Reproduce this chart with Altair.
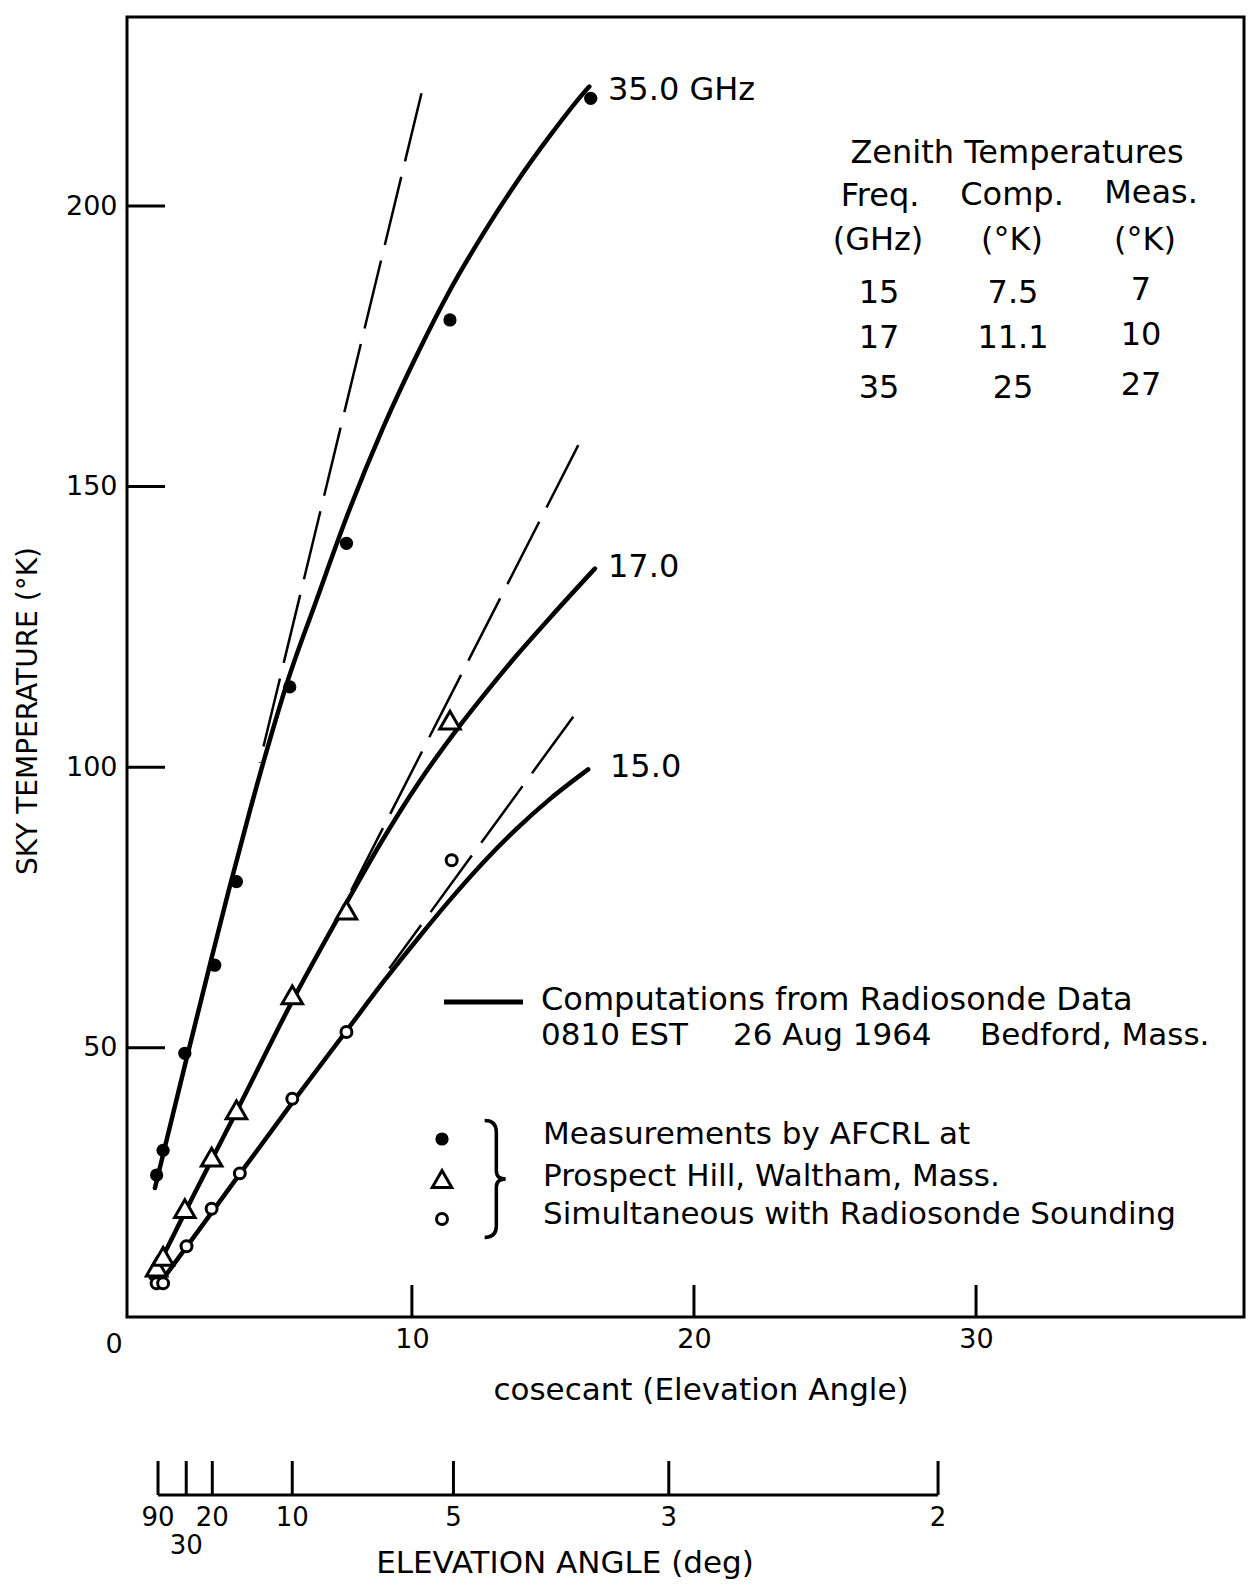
import math
import altair as alt
import pandas as pd

FONT = "DejaVu Sans"

# ---------------- data ----------------
# measured points: cosecant of elevation angle vs sky temperature (K)
meas35_csc = [0.95, 1.18, 1.95, 3.01, 3.78, 5.67, 7.68, 11.35, 16.34]
meas35_temp = [27.3, 31.7, 49.0, 64.7, 79.6, 114.3, 139.9, 179.7, 219.2]
meas17_csc = [0.95, 1.18, 1.95, 2.90, 3.78, 5.76, 7.68, 11.35]
meas17_temp = [10.9, 12.8, 21.3, 30.5, 38.9, 59.4, 74.5, 108.4]
meas15_csc = [0.95, 1.18, 2.01, 2.90, 3.90, 5.76, 7.68, 11.41]
meas15_temp = [8.0, 8.0, 14.6, 21.3, 27.6, 40.9, 52.8, 83.4]

# computed curves (radiosonde data)
comp35_csc = [0.89, 1.24, 1.95, 2.9, 3.49, 4.26, 5.0, 5.56, 6.62, 7.68, 8.98,
              10.18, 11.35, 12.52, 13.72, 14.89, 16.06, 16.29]
comp35_temp = [25.0, 32.2, 46.8, 66.0, 77.7, 92.3, 105.5, 114.8, 129.8, 144.5,
               160.5, 173.5, 185.0, 195.0, 204.3, 212.5, 220.0, 221.3]
comp17_csc = [0.75, 1.0, 1.95, 2.9, 3.78, 5.76, 7.68, 8.98, 10.17, 11.7, 12.53,
              13.71, 14.89, 16.49]
comp17_temp = [9.0, 11.2, 20.6, 30.0, 38.6, 58.3, 75.8, 87.2, 96.7, 107.4, 112.7,
               119.9, 126.6, 135.4]
comp15_csc = [0.95, 2.01, 2.9, 3.9, 5.76, 7.68, 9.0, 10.3, 11.55, 12.53, 13.71,
              14.89, 16.25]
comp15_temp = [7.2, 14.5, 20.6, 27.5, 40.2, 53.0, 61.8, 70.0, 77.5, 83.0, 89.0,
               94.3, 99.6]

# dashed linear extensions
lin35_csc = [4.6, 10.34]
lin35_temp = [100.8, 220.1]
lin17_csc = [7.5, 15.9]
lin17_temp = [74.6, 157.4]
lin15_csc = [9.2, 15.72]
lin15_temp = [64.1, 109.0]

curve_labels = ["35.0 GHz", "17.0", "15.0"]

y_ticks = [50, 100, 150, 200]
x_ticks = [10, 20, 30]

elev_angles = [90, 30, 20, 10, 5, 3, 2]
elev_labels = ["90", "30", "20", "10", "5", "3", "2"]

zen_freq = ["15", "17", "35"]
zen_comp = ["7.5", "11.1", "25"]
zen_meas = ["7", "10", "27"]

# ---------------- layout ----------------
L, T = 127, 17          # plot-area origin on the page
W, H = 1117, 1300

xs = alt.Scale(domain=[-0.1, 39.5], nice=False, zero=False)
ys = alt.Scale(domain=[2.0, 233.7], nice=False, zero=False)

xaxis = alt.Axis(values=x_ticks, ticks=False, domain=False, grid=False,
                 labelFontSize=27, labelPadding=9, labelColor="black",
                 labelFont=FONT, title=None)
yaxis = alt.Axis(values=y_ticks, ticks=False, domain=False, grid=False,
                 labelFontSize=27, labelPadding=10, labelColor="black",
                 labelFont=FONT, title=None)


def X(f):
    return alt.X(f, type="quantitative", scale=xs, axis=xaxis)


def Y(f):
    return alt.Y(f, type="quantitative", scale=ys, axis=yaxis)


def series_df(pairs):
    rows = []
    for name, xs_, ys_ in pairs:
        for a, b in zip(xs_, ys_):
            rows.append({"s": name, "csc": a, "temp": b})
    return pd.DataFrame(rows)


def txt(s, px, py, size, align="center", baseline="middle", angle=0):
    mk = dict(font=FONT, fontSize=size, align=align, baseline=baseline,
              color="black")
    if angle:
        mk["angle"] = angle
    return alt.Chart(pd.DataFrame({"t": [s]})).mark_text(**mk).encode(
        x=alt.value(px - L), y=alt.value(py - T), text="t:N")


layers = []

# inward ticks on the main axes
layers.append(alt.Chart(pd.DataFrame({"v": y_ticks})).mark_rule(
    color="black", strokeWidth=3).encode(
    y=Y("v"), x=alt.value(0), x2=alt.value(38)))
layers.append(alt.Chart(pd.DataFrame({"v": x_ticks})).mark_rule(
    color="black", strokeWidth=3).encode(
    x=X("v"), y=alt.value(H), y2=alt.value(H - 32)))

# dashed extrapolations (drawn from the top end so a full dash starts there)
dash_df = series_df([("35", lin35_csc, lin35_temp),
                     ("17", lin17_csc, lin17_temp),
                     ("15", lin15_csc, lin15_temp)])
layers.append(alt.Chart(dash_df).mark_line(
    color="black", strokeWidth=2.5, strokeDash=[70, 16]).encode(
    x=X("csc"), y=Y("temp"), detail="s:N",
    order=alt.Order("csc:Q", sort="descending")))

# computed curves
comp_df = series_df([("35", comp35_csc, comp35_temp),
                     ("17", comp17_csc, comp17_temp),
                     ("15", comp15_csc, comp15_temp)])
layers.append(alt.Chart(comp_df).mark_line(
    color="black", strokeWidth=4.5, interpolate="monotone",
    strokeCap="round").encode(x=X("csc"), y=Y("temp"), detail="s:N"))

# measured points
layers.append(alt.Chart(pd.DataFrame({"csc": meas35_csc, "temp": meas35_temp}))
              .mark_point(shape="circle", filled=True, size=175, color="black",
                          opacity=1).encode(x=X("csc"), y=Y("temp")))
layers.append(alt.Chart(pd.DataFrame({"csc": meas17_csc, "temp": meas17_temp}))
              .mark_point(shape="triangle-up", filled=False, size=420,
                          stroke="black", fill="white", strokeWidth=3,
                          opacity=1, fillOpacity=1)
              .encode(x=X("csc"), y=Y("temp")))
layers.append(alt.Chart(pd.DataFrame({"csc": meas15_csc, "temp": meas15_temp}))
              .mark_point(shape="circle", filled=False, size=120,
                          stroke="black", fill="white", strokeWidth=3,
                          opacity=1, fillOpacity=1)
              .encode(x=X("csc"), y=Y("temp")))

# curve labels
layers.append(txt(curve_labels[0], 608, 90, 32, align="left"))
layers.append(txt(curve_labels[1], 608, 567, 32, align="left"))
layers.append(txt(curve_labels[2], 610, 767, 32, align="left"))

# zenith temperature table
layers.append(txt("Zenith Temperatures", 1017, 163, 32, baseline="alphabetic"))
layers.append(txt("Freq.", 880, 206, 32, baseline="alphabetic"))
layers.append(txt("Comp.", 1012, 205, 32, baseline="alphabetic"))
layers.append(txt("Meas.", 1151, 203, 32, baseline="alphabetic"))
layers.append(txt("(GHz)", 878, 250, 32, baseline="alphabetic"))
layers.append(txt("(°K)", 1012, 250, 32, baseline="alphabetic"))
layers.append(txt("(°K)", 1145, 250, 32, baseline="alphabetic"))
row_base = [303, 348, 398]
for i in range(3):
    layers.append(txt(zen_freq[i], 879, row_base[i], 32, baseline="alphabetic"))
    layers.append(txt(zen_comp[i], 1013, row_base[i], 32, baseline="alphabetic"))
    layers.append(txt(zen_meas[i], 1141, row_base[i] - 3, 32, baseline="alphabetic"))

# legend
layers.append(alt.Chart(pd.DataFrame({"t": [0]})).mark_rule(
    color="black", strokeWidth=5).encode(
    x=alt.value(444 - L), x2=alt.value(523 - L), y=alt.value(1002 - T)))
layers.append(txt("Computations from Radiosonde Data", 541, 1000, 32, align="left"))
layers.append(txt("0810 EST", 541, 1036, 31, align="left"))
layers.append(txt("26 Aug 1964", 733, 1036, 31, align="left"))
layers.append(txt("Bedford, Mass.", 980, 1036, 31, align="left"))
layers.append(txt("Measurements  by  AFCRL  at", 543, 1135, 31, align="left"))
layers.append(txt("Prospect  Hill,  Waltham,  Mass.", 543, 1177, 31, align="left"))
layers.append(txt("Simultaneous with Radiosonde Sounding", 543, 1215, 31, align="left"))

one = pd.DataFrame({"t": [0]})
layers.append(alt.Chart(one).mark_point(shape="circle", filled=True, size=175,
                                        color="black", opacity=1).encode(
    x=alt.value(442 - L), y=alt.value(1139 - T)))
layers.append(alt.Chart(one).mark_point(shape="triangle-up", filled=False, size=380,
                                        stroke="black", strokeWidth=3, opacity=1)
              .encode(x=alt.value(442 - L), y=alt.value(1179 - T)))
layers.append(alt.Chart(one).mark_point(shape="circle", filled=False, size=120,
                                        stroke="black", strokeWidth=3, opacity=1)
              .encode(x=alt.value(442 - L), y=alt.value(1219 - T)))
brace = ("M -0.16 -1 Q 0.04 -1 0.04 -0.8 L 0.04 -0.14 Q 0.04 0 0.2 0 "
         "Q 0.04 0 0.04 0.14 L 0.04 0.8 Q 0.04 1 -0.16 1")
layers.append(alt.Chart(one).mark_point(shape=brace, filled=False, size=117 * 117,
                                        stroke="black", strokeWidth=3.5, opacity=1)
              .encode(x=alt.value(494 - L), y=alt.value(1179 - T)))

# axis titles and corner label
layers.append(txt("SKY TEMPERATURE (°K)", 29, 711, 28, angle=270))
layers.append(txt("cosecant  (Elevation Angle)", 701, 1391, 31))
layers.append(txt("0", 114, 1345, 27))

# elevation angle scale (ticks placed at csc of the angle)
elev_csc = [1.0 / math.sin(math.radians(a)) for a in elev_angles]
edf = pd.DataFrame({"csc": elev_csc, "lab": elev_labels})
base_y = 1495 - T
layers.append(alt.Chart(pd.DataFrame({"a": [min(elev_csc)], "b": [max(elev_csc)]}))
              .mark_rule(color="black", strokeWidth=3)
              .encode(x=X("a"), x2="b:Q", y=alt.value(base_y)))
layers.append(alt.Chart(edf).mark_rule(color="black", strokeWidth=3).encode(
    x=X("csc"), y=alt.value(base_y), y2=alt.value(base_y - 34)))
layers.append(alt.Chart(edf[edf["lab"] != "30"]).mark_text(
    font=FONT, fontSize=26, baseline="middle", align="center", color="black").encode(
    x=X("csc"), y=alt.value(1518 - T), text="lab:N"))
layers.append(alt.Chart(edf[edf["lab"] == "30"]).mark_text(
    font=FONT, fontSize=26, baseline="middle", align="center", color="black").encode(
    x=X("csc"), y=alt.value(1546 - T), text="lab:N"))
layers.append(txt("ELEVATION ANGLE  (deg)", 565, 1573, 31, baseline="alphabetic"))

chart = alt.layer(*layers).properties(
    width=W, height=H,
    padding={"left": L - 8, "top": T - 8, "right": 2, "bottom": 267},
    autosize=alt.AutoSizeParams(type="none"),
).configure(font=FONT).configure_view(stroke="black", strokeWidth=3)

chart.save("out.html", embed_options={"renderer": "svg", "actions": False})
